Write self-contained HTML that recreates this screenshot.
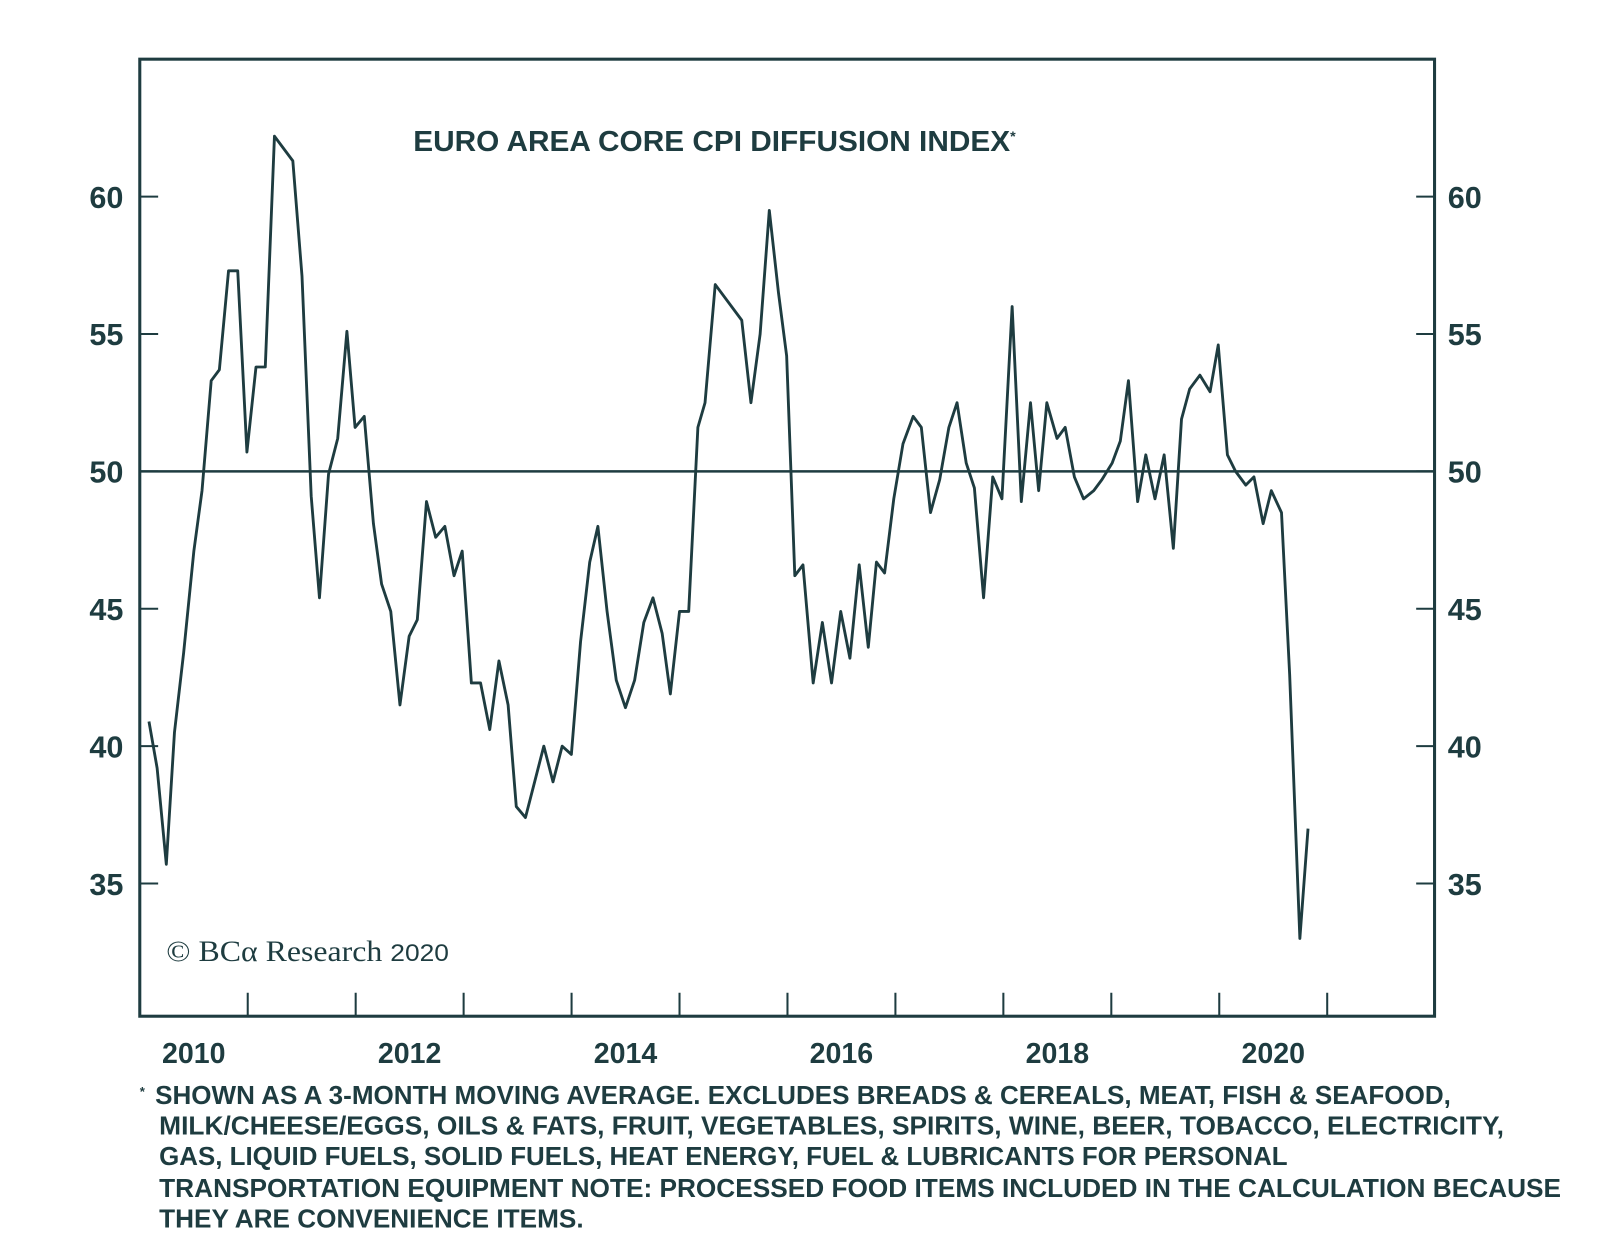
<!DOCTYPE html>
<html><head><meta charset="utf-8"><style>
html,body{margin:0;padding:0;background:#fff;}
svg{display:block;font-family:"Liberation Sans",sans-serif;}
</style></head><body>
<svg id="chart" width="1600" height="1242" viewBox="0 0 1600 1242">
<g transform="scale(1.0203)">
<rect x="137" y="58" width="1269" height="938" fill="#fff" stroke="#1e3c40" stroke-width="3"/>
<text x="405" y="148" font-size="28" font-weight="bold" fill="#1e3c40"><tspan textLength="585" lengthAdjust="spacingAndGlyphs">EURO AREA CORE CPI DIFFUSION INDEX</tspan><tspan font-size="14" dy="-10">*</tspan></text>
<text x="163" y="942" font-family="Liberation Serif,serif" font-size="29" fill="#1e3c40" textLength="277" lengthAdjust="spacingAndGlyphs">© BCα Research <tspan font-family="Liberation Sans,sans-serif" font-size="24">2020</tspan></text>
<g id="axes"></g>
<path id="line" fill="none" stroke="#1e3c40" stroke-width="2.8" stroke-linejoin="round"/>
<g font-size="25" font-weight="bold" fill="#1e3c40">
<text x="137" y="1074" font-size="13">*</text>
<text x="152" y="1082" textLength="1270" lengthAdjust="spacingAndGlyphs">SHOWN AS A 3-MONTH MOVING AVERAGE. EXCLUDES BREADS &amp; CEREALS, MEAT, FISH &amp; SEAFOOD,</text>
<text x="156" y="1112" textLength="1318" lengthAdjust="spacingAndGlyphs">MILK/CHEESE/EGGS, OILS &amp; FATS, FRUIT, VEGETABLES, SPIRITS, WINE, BEER, TOBACCO, ELECTRICITY,</text>
<text x="156" y="1142" textLength="1106" lengthAdjust="spacingAndGlyphs">GAS, LIQUID FUELS, SOLID FUELS, HEAT ENERGY, FUEL &amp; LUBRICANTS FOR PERSONAL</text>
<text x="156" y="1173" textLength="1374" lengthAdjust="spacingAndGlyphs">TRANSPORTATION EQUIPMENT NOTE: PROCESSED FOOD ITEMS INCLUDED IN THE CALCULATION BECAUSE</text>
<text x="156" y="1203" textLength="416" lengthAdjust="spacingAndGlyphs">THEY ARE CONVENIENCE ITEMS.</text>
</g>
</g>
</svg>
<script>
const dates=[2010.085,2010.161,2010.246,2010.321,2010.406,2010.501,2010.577,2010.662,2010.737,2010.822,2010.907,2010.992,2011.077,2011.163,2011.248,2011.418,2011.503,2011.588,2011.664,2011.749,2011.834,2011.919,2011.994,2012.079,2012.164,2012.24,2012.325,2012.41,2012.495,2012.571,2012.656,2012.741,2012.826,2012.911,2012.987,2013.072,2013.157,2013.242,2013.327,2013.412,2013.488,2013.573,2013.658,2013.743,2013.828,2013.913,2013.998,2014.083,2014.168,2014.244,2014.329,2014.414,2014.499,2014.584,2014.669,2014.754,2014.839,2014.915,2015.0,2015.085,2015.17,2015.236,2015.331,2015.577,2015.662,2015.747,2015.832,2015.917,2015.992,2016.068,2016.144,2016.238,2016.323,2016.408,2016.493,2016.578,2016.664,2016.749,2016.824,2016.9,2016.985,2017.07,2017.164,2017.24,2017.325,2017.41,2017.495,2017.571,2017.656,2017.732,2017.817,2017.902,2017.987,2018.081,2018.166,2018.251,2018.327,2018.403,2018.497,2018.573,2018.658,2018.743,2018.837,2018.913,2019.008,2019.083,2019.159,2019.244,2019.319,2019.405,2019.49,2019.575,2019.65,2019.726,2019.82,2019.915,2019.991,2020.076,2020.151,2020.246,2020.321,2020.406,2020.482,2020.577,2020.652,2020.747,2020.822];
const values=[40.9,39.2,35.7,40.5,43.4,47.1,49.3,53.3,53.7,57.3,57.3,50.7,53.8,53.8,62.2,61.3,57.1,49.1,45.4,49.9,51.2,55.1,51.6,52.0,48.1,45.9,44.9,41.5,44.0,44.6,48.9,47.6,48.0,46.2,47.1,42.3,42.3,40.6,43.1,41.5,37.8,37.4,38.7,40.0,38.7,40.0,39.7,43.8,46.7,48.0,44.9,42.4,41.4,42.4,44.5,45.4,44.1,41.9,44.9,44.9,51.6,52.5,56.8,55.5,52.5,55.0,59.5,56.5,54.2,46.2,46.6,42.3,44.5,42.3,44.9,43.2,46.6,43.6,46.7,46.3,49.0,51.0,52.0,51.6,48.5,49.7,51.6,52.5,50.3,49.4,45.4,49.8,49.0,56.0,48.9,52.5,49.3,52.5,51.2,51.6,49.8,49.0,49.3,49.7,50.3,51.1,53.3,48.9,50.6,49.0,50.6,47.2,51.9,53.0,53.5,52.9,54.6,50.6,50.0,49.5,49.8,48.1,49.3,48.5,42.6,33.0,37.0];
const yTicks=[35,40,45,50,55,60];
const xTickYears=[2011,2012,2013,2014,2015,2016,2017,2018,2019,2020,2021];
const xLabels=["2010","2012","2014","2016","2018","2020"];
const X=t=>137+(t-2010)*105.8;
const Y=v=>462-(v-50)*26.93;
const NS="http://www.w3.org/2000/svg";
const ax=document.getElementById('axes');
function mk(tag,attrs,txt){const e=document.createElementNS(NS,tag);for(const k in attrs)e.setAttribute(k,attrs[k]);if(txt!==undefined)e.textContent=txt;ax.appendChild(e);return e;}
yTicks.forEach(v=>{
 const y=Y(v);
 let e=mk('line',{x1:137,x2:155,y1:y,y2:y,stroke:'#1e3c40','stroke-width':2});
 
 
 e=mk('line',{x1:1388,x2:1406,y1:y,y2:y,stroke:'#1e3c40','stroke-width':2});
 
 
 e=mk('text',{x:121,y:y+11,'text-anchor':'end','font-size':30,'font-weight':'bold',fill:'#1e3c40'},String(v));
 
 
 e=mk('text',{x:1419,y:y+11,'font-size':30,'font-weight':'bold',fill:'#1e3c40'},String(v));
 
 
});
let ref=mk('line',{x1:137,x2:1406,y1:Y(50),y2:Y(50),stroke:'#1e3c40','stroke-width':2.5});


xTickYears.forEach(yr=>{
 const x=X(yr);
 const e=mk('line',{x1:x,x2:x,y1:973,y2:996,stroke:'#1e3c40','stroke-width':2});
 
 
});
xLabels.forEach(l=>{
 const e=mk('text',{x:X(+l+0.5),y:1042,'text-anchor':'middle','font-size':28,'font-weight':'bold',fill:'#1e3c40'},l);
 
 
});
document.getElementById('line').setAttribute('d',dates.map((t,i)=>(i?'L':'M')+X(t).toFixed(1)+','+Y(values[i]).toFixed(1)).join(''));
</script>
</body></html>
